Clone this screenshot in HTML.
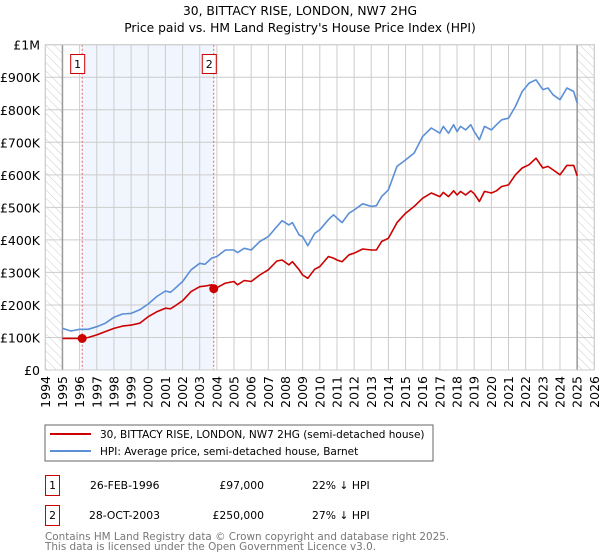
<!DOCTYPE html>
<html><head><meta charset="utf-8"><style>
body{margin:0;background:#fff;}
svg{display:block;font-family:"DejaVu Sans","Liberation Sans",sans-serif;}
</style></head><body>
<svg id="chart" width="600" height="560" viewBox="0 0 600 560">
<defs><pattern id="hatch" width="6" height="6" patternUnits="userSpaceOnUse" patternTransform="rotate(-45)"><line x1="0" y1="0" x2="0" y2="6" stroke="#ccc" stroke-width="1"/></pattern></defs>
<text x="300" y="15" text-anchor="middle" font-size="12.3">30, BITTACY RISE, LONDON, NW7 2HG</text>
<text x="300" y="32" text-anchor="middle" font-size="12.3">Price paid vs. HM Land Registry's House Price Index (HPI)</text>
<g id="plot"></g>
<rect x="45" y="425" width="388" height="36" fill="#fff" stroke="#666"/>
<line x1="50" y1="434" x2="91" y2="434" stroke="#cc0000" stroke-width="2"/>
<text x="100" y="438" font-size="10.5">30, BITTACY RISE, LONDON, NW7 2HG (semi-detached house)</text>
<line x1="50" y1="451" x2="91" y2="451" stroke="#5b8fd6" stroke-width="2"/>
<text x="100" y="455" font-size="10.5">HPI: Average price, semi-detached house, Barnet</text>
<g font-size="10.8">
<rect x="45.5" y="475.5" width="14" height="20" fill="none" stroke="#cc0000"/>
<text x="52.5" y="489" text-anchor="middle">1</text>
<text x="90" y="489">26-FEB-1996</text>
<text x="264" y="489" text-anchor="end">£97,000</text>
<text x="312" y="489">22% ↓ HPI</text>
<rect x="45.5" y="505.5" width="14" height="20" fill="none" stroke="#cc0000"/>
<text x="52.5" y="519" text-anchor="middle">2</text>
<text x="89" y="519">28-OCT-2003</text>
<text x="264" y="519" text-anchor="end">£250,000</text>
<text x="312" y="519">27% ↓ HPI</text>
</g>
<text x="45" y="540" font-size="10.4" fill="#777">Contains HM Land Registry data © Crown copyright and database right 2025.</text>
<text x="45" y="550" font-size="10.4" fill="#777">This data is licensed under the Open Government Licence v3.0.</text>
</svg>
<script>
const yTicks=[0,100000,200000,300000,400000,500000,600000,700000,800000,900000,1000000];
const yTickLabels=["£0","£100K","£200K","£300K","£400K","£500K","£600K","£700K","£800K","£900K","£1M"];
const xYears=[1994,1995,1996,1997,1998,1999,2000,2001,2002,2003,2004,2005,2006,2007,2008,2009,2010,2011,2012,2013,2014,2015,2016,2017,2018,2019,2020,2021,2022,2023,2024,2025,2026];
const hpiT=[1995,1995.5,1996,1996.5,1997,1997.5,1998,1998.5,1999,1999.5,2000,2000.5,2001,2001.3,2001.5,2002,2002.5,2003,2003.3,2003.7,2004,2004.5,2005,2005.2,2005.6,2006,2006.5,2007,2007.5,2007.8,2008.2,2008.4,2008.8,2009,2009.3,2009.7,2010,2010.5,2010.8,2011,2011.3,2011.7,2012,2012.5,2013,2013.3,2013.6,2014,2014.5,2015,2015.5,2016,2016.5,2017,2017.2,2017.5,2017.8,2018,2018.2,2018.5,2018.8,2019,2019.3,2019.6,2020,2020.3,2020.6,2021,2021.4,2021.8,2022.2,2022.6,2023,2023.3,2023.6,2024,2024.4,2024.8,2025];
const hpiV=[128,120,125,125,133,144,162,172,174,185,203,226,243,239,248,272,308,328,325,344,349,369,369,361,374,369,395,410,441,459,446,453,415,410,382,420,431,462,477,467,453,482,492,511,503,505,533,554,626,646,667,718,744,728,749,728,754,733,749,738,754,733,708,749,738,754,769,774,810,856,882,892,862,867,846,831,867,856,821];
const priceT=hpiT;
const priceV=[97,97,97,100,108,118,128,135,138,144,164,179,190,188,195,213,241,256,258,262,253,267,272,262,275,272,292,308,335,338,323,333,308,292,282,310,318,349,344,338,333,354,359,372,369,369,395,405,453,482,503,528,544,533,546,533,551,538,549,538,551,542,518,549,544,551,564,569,600,621,631,651,621,626,615,600,629,629,597];
const saleT=[1996.15,2003.82];
const saleV=[97000,250000];
const saleLabels=["1","2"];
const X0=45.3,X1=594.3,Y0=370,Y1=44.7;
const xs=t=>X0+(t-1994)/(2026-1994)*(X1-X0);
const ys=v=>Y0-v/1000000*(Y0-Y1);
const g=document.getElementById('plot');
const NS='http://www.w3.org/2000/svg';
function mk(tag,attrs,parent){const e=document.createElementNS(NS,tag);for(const k in attrs)e.setAttribute(k,attrs[k]);(parent||g).appendChild(e);return e;}
let e;
e=mk('rect',{x:xs(saleT[0]),y:Y1,width:xs(saleT[1])-xs(saleT[0]),height:Y0-Y1,fill:'#eef3fc',opacity:0.8});


e=mk('rect',{x:X0,y:Y1,width:xs(1995)-X0,height:Y0-Y1,fill:'url(#hatch)'});


e=mk('rect',{x:xs(2025),y:Y1,width:X1-xs(2025),height:Y0-Y1,fill:'url(#hatch)'});


yTicks.forEach((v,i)=>{
 e=mk('line',{x1:X0,x2:X1,y1:ys(v),y2:ys(v),stroke:'#ccc','stroke-width':1});
 
 
 e=mk('text',{x:40,y:ys(v)+5,'text-anchor':'end','font-size':12.5});
 e.textContent=yTickLabels[i];
 
 
});
xYears.forEach(yr=>{
 e=mk('line',{x1:xs(yr),x2:xs(yr),y1:Y1,y2:Y0,stroke:'#ccc','stroke-width':1});
 
 
 e=mk('text',{x:0,y:0,'font-size':12.5,'text-anchor':'end',transform:`translate(${xs(yr)+4.5},${Y0+6}) rotate(-90)`});
 e.textContent=yr;
 
 
});
[1995,2025].forEach(yr=>{
 e=mk('line',{x1:xs(yr),x2:xs(yr),y1:Y1,y2:Y0,stroke:'#999','stroke-width':1.5});
 
 
});
saleT.forEach((t,i)=>{
 e=mk('line',{x1:xs(t),x2:xs(t),y1:Y1,y2:Y0,stroke:'#e06060','stroke-width':1,'stroke-dasharray':'2,2'});
 
 
 e=mk('rect',{x:xs(t)-11.5,y:54.5,width:14,height:19,fill:'#fff',stroke:'#cc0000'});
 
 
 e=mk('text',{x:xs(t)-4.5,y:68,'text-anchor':'middle','font-size':11});
 e.textContent=saleLabels[i];
 
 
});
const path=(T,V)=>T.map((t,i)=>(i?'L':'M')+xs(t).toFixed(1)+','+ys(V[i]*1000).toFixed(1)).join('');
e=mk('path',{d:path(hpiT,hpiV),fill:'none',stroke:'#5b8fd6','stroke-width':1.6,'stroke-linejoin':'round'});


e=mk('path',{d:path(priceT,priceV),fill:'none',stroke:'#cc0000','stroke-width':1.6,'stroke-linejoin':'round'});


saleT.forEach((t,i)=>{
 e=mk('circle',{cx:xs(t),cy:ys(saleV[i]),r:4.5,fill:'#cc0000'});
 
 
});
e=mk('rect',{x:X0,y:Y1,width:X1-X0,height:Y0-Y1,fill:'none',stroke:'#ccc'});


</script>
</body></html>
